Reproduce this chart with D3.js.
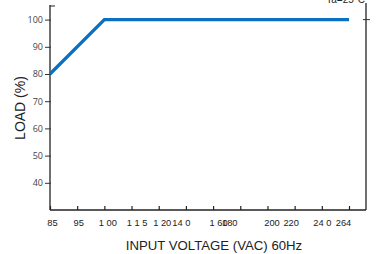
<!DOCTYPE html>
<html><head><meta charset="utf-8">
<script src="https://cdn.jsdelivr.net/npm/d3@7"></script>
<style>html,body{margin:0;padding:0;background:#fff;}svg{display:block;}</style>
</head><body>
<svg id="c" width="379" height="254"></svg>
<script>
// data
const xTickValues = [85, 95, 100, 115, 120, 140, 160, 180, 200, 220, 240, 264];
const xTickLabels = ["85", "95", "1 00", "1 1 5", "1 20", "14 0", "1 60", "180", "200", "220", "24 0", "264"];
const yTickValues = [40, 50, 60, 70, 80, 90, 100];
const lineVoltage = [85, 100, 264];
const lineLoad = [80, 100, 100];

// layout
const L = 50, R = 366, T = 6, B = 210;
const labelNudge = [2, 1, 3, 5, 3, -5, 5, -11, 4, -4, 0, -6];

const svg = d3.select("#c");
const x = d3.scalePoint().domain(xTickValues).range([L, 349]);
const y = d3.scaleLinear().domain([30, 105]).range([B, T]);

// frame
svg.append("line").attr("x1", L).attr("x2", L).attr("y1", T - 1).attr("y2", B).attr("stroke", "#222").attr("stroke-width", 1.3);
svg.append("line").attr("x1", L).attr("x2", R).attr("y1", B).attr("y2", B).attr("stroke", "#222").attr("stroke-width", 1.3);
svg.append("line").attr("x1", R).attr("x2", R).attr("y1", 3).attr("y2", B).attr("stroke", "#222").attr("stroke-width", 1.3);
svg.append("line").attr("x1", L).attr("x2", L + 5).attr("y1", T).attr("y2", T).attr("stroke", "#222").attr("stroke-width", 1);

// y axis
const yAxis = d3.axisLeft(y).tickValues(yTickValues).tickSize(4).tickPadding(3).tickFormat(d3.format("d"));
const gy = svg.append("g").attr("transform", `translate(${L},0)`).call(yAxis);
gy.select(".domain").remove();
gy.selectAll(".tick line").attr("stroke", "#333").attr("x2", -5).attr("x1", 1);
gy.selectAll(".tick text").attr("font-family", "'Open Sans', 'DejaVu Sans', sans-serif").attr("font-size", 9).attr("fill", "#444").attr("x", -7);

// right axis tick at 100
svg.append("line").attr("x1", R - 3).attr("x2", R + 4).attr("y1", y(100)).attr("y2", y(100)).attr("stroke", "#333");

// x axis (ticks pointing up)
const xAxis = d3.axisBottom(x).tickSize(0).tickFormat((d, i) => xTickLabels[i]);
const gx = svg.append("g").attr("transform", `translate(0,${B})`).call(xAxis);
gx.select(".domain").remove();
gx.selectAll(".tick line").attr("y1", 0).attr("y2", -4).attr("stroke", "#222").attr("stroke-width", 1.2);
gx.selectAll(".tick text")
  .attr("font-family", "'Liberation Sans', Arial, sans-serif").attr("font-size", 9.3).attr("fill", "#222")
  .attr("y", 16).attr("dy", 0)
  .attr("x", (d, i) => labelNudge[i]);

// data line
const line = d3.line().x(d => x(d[0])).y(d => y(d[1]));
svg.append("path")
  .datum(lineVoltage.map((v, i) => [v, lineLoad[i]]))
  .attr("d", line)
  .attr("fill", "none").attr("stroke", "#0a70c4").attr("stroke-width", 3.3)
  .attr("stroke-linejoin", "miter");

// titles
svg.append("text").attr("x", 214).attr("y", 250).attr("text-anchor", "middle")
  .attr("font-family", "'Liberation Sans', Arial, sans-serif").attr("font-size", 13.2).attr("fill", "#222")
  .text("INPUT VOLTAGE (VAC) 60Hz");
svg.append("text").attr("transform", "translate(25,108) rotate(-90)").attr("text-anchor", "middle")
  .attr("font-family", "'Liberation Sans', Arial, sans-serif").attr("font-size", 14).attr("fill", "#222")
  .text("LOAD (%)");
svg.append("text").attr("x", 365).attr("y", 3).attr("text-anchor", "end")
  .attr("font-family", "'Liberation Sans', Arial, sans-serif").attr("font-size", 10).attr("fill", "#222")
  .text("Ta=25°C");
</script>
</body></html>
